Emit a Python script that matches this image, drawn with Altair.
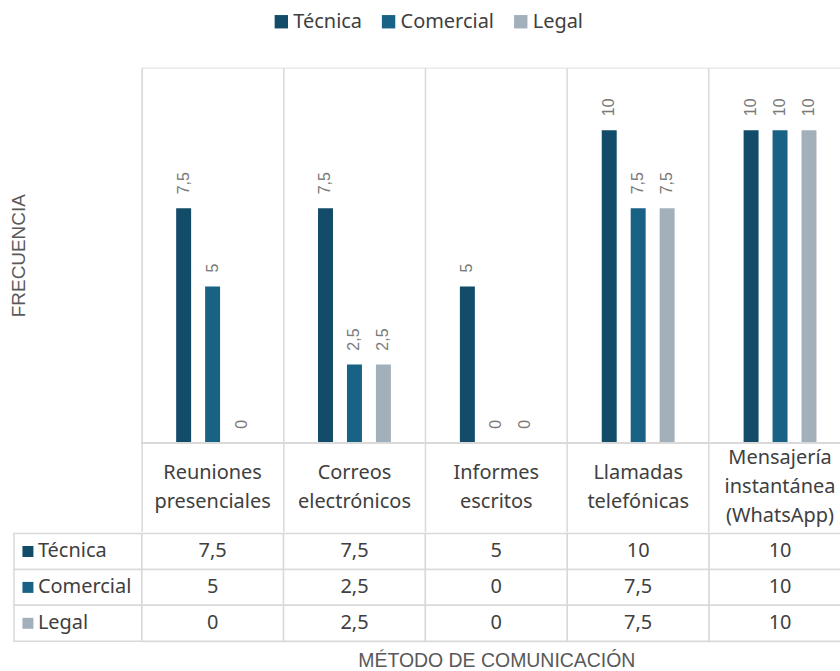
import altair as alt
import pandas as pd

# Communication methods (header labels break on "\n")
categorias = [
    "Reuniones\npresenciales",
    "Correos\nelectrónicos",
    "Informes\nescritos",
    "Llamadas\ntelefónicas",
    "Mensajería\ninstantánea\n(WhatsApp)",
]
series = ["Técnica", "Comercial", "Legal"]
colores = ["#124c69", "#186285", "#a2b0bc"]

# Frequency per area, one list per series (same order as categorias)
tecnica = [7.5, 7.5, 5, 10, 10]
comercial = [5, 2.5, 0, 7.5, 10]
legal = [0, 2.5, 0, 7.5, 10]

filas = []
for serie, valores in zip(series, [tecnica, comercial, legal]):
    for cat, v in zip(categorias, valores):
        filas.append({"categoria": cat, "serie": serie, "valor": v})
df = pd.DataFrame(filas)

GRIS_LINEA = "#d9d9d9"
FUENTE_TABLA = "Noto Sans"
FUENTE_EJES = "Liberation Sans"
TAM_TABLA = 20
ANCHO = 711  # five category columns; the page crops the last one

x_cat = alt.Scale(paddingInner=0, paddingOuter=0)
color = alt.Color(
    "serie:N",
    sort=series,
    scale=alt.Scale(domain=series, range=colores),
    legend=alt.Legend(
        title=None,
        orient="none",
        direction="horizontal",
        legendX=130,
        legendY=-56,
        symbolType="square",
        symbolSize=180,
        symbolStrokeWidth=0,
        labelFont=FUENTE_TABLA,
        labelFontSize=TAM_TABLA,
        labelColor="#404040",
        columnPadding=16.5,
        labelOffset=2,
    ),
)

base = alt.Chart(df).transform_calculate(
    texto="replace(toString(datum.valor), '.', ',')"
)

eje_x = alt.X(
    "categoria:N",
    sort=categorias,
    scale=x_cat,
    axis=alt.Axis(
        title=None,
        bandPosition=0,
        grid=True,
        gridColor=GRIS_LINEA,
        gridWidth=1.5,
        ticks=True,
        tickSize=89,
        tickColor=GRIS_LINEA,
        tickWidth=1.5,
        domain=False,
        labelExpr="split(datum.label, '\\n')",
        labelPadding={
            "condition": {"test": "indexof(datum.value, '(') >= 0", "value": -74},
            "value": -59,
        },
        labelBaseline="middle",
        labelAlign="center",
        labelAngle=0,
        labelFont=FUENTE_TABLA,
        labelFontSize=TAM_TABLA,
        labelColor="#404040",
        labelLineHeight=29,
        labelOverlap=False,
        labelLimit=0,
    ),
)

eje_y = alt.Y(
    "valor:Q",
    scale=alt.Scale(domain=[0, 12]),
    axis=alt.Axis(
        title="FRECUENCIA",
        labels=False,
        ticks=False,
        domain=False,
        grid=False,
        titleAngle=270,
        titleX=-123,
        titleBaseline="middle",
        titleFont=FUENTE_EJES,
        titleFontSize=19,
        titleFontWeight="normal",
        titleColor="#595959",
    ),
)

x_off = alt.XOffset(
    "serie:N", sort=series, scale=alt.Scale(paddingInner=0, paddingOuter=0.95)
)

barras = base.mark_bar(width=15).encode(x=eje_x, xOffset=x_off, y=eje_y, color=color)

etiquetas = base.mark_text(
    angle=270,
    align="left",
    baseline="middle",
    dx=14,
    font=FUENTE_EJES,
    fontSize=16,
    color="#7a7a7a",
).encode(x=eje_x, xOffset=x_off, y=eje_y, text="texto:N")

# baseline of the category axis
linea_base = base.mark_rule(color=GRIS_LINEA, strokeWidth=1.5).encode(y=alt.datum(0))

grafico = alt.layer(barras, etiquetas, linea_base).properties(width=ANCHO, height=376)

# Data table under the chart
x_tabla = alt.X(
    "categoria:N",
    sort=categorias,
    scale=x_cat,
    axis=alt.Axis(
        title="MÉTODO DE COMUNICACIÓN",
        labels=False,
        ticks=False,
        domain=False,
        grid=False,
        titlePadding=10,
        titleFont=FUENTE_EJES,
        titleFontSize=19.5,
        titleFontWeight="normal",
        titleColor="#595959",
    ),
)
y_tabla = alt.Y(
    "serie:N",
    sort=series,
    scale=alt.Scale(paddingInner=0, paddingOuter=0),
    axis=None,
)

celdas = base.mark_rect(fill="white", stroke=GRIS_LINEA, strokeWidth=1.5).encode(
    x=x_tabla, y=y_tabla
)
valores_tabla = base.mark_text(
    font=FUENTE_TABLA, fontSize=TAM_TABLA, color="#404040"
).encode(x=x_tabla, y=y_tabla, text="texto:N")

nombres = alt.Chart(pd.DataFrame({"serie": series}))
celdas_nombre = nombres.mark_rect(
    fill="white", stroke=GRIS_LINEA, strokeWidth=1.5
).encode(x=alt.value(-128), x2=alt.value(0), y=y_tabla)
claves = nombres.mark_square(size=121, opacity=1).encode(
    x=alt.value(-114),
    y=y_tabla,
    color=alt.Color("serie:N", sort=series, legend=None),
)
textos_nombre = nombres.mark_text(
    align="left", font=FUENTE_TABLA, fontSize=TAM_TABLA, color="#404040"
).encode(x=alt.value(-104), y=y_tabla, text="serie:N")

tabla = alt.layer(
    celdas, valores_tabla, celdas_nombre, claves, textos_nombre
).properties(width=ANCHO, height=108)

chart = (
    alt.vconcat(grafico, tabla, spacing=-5)
    .configure_view(stroke=None)
    .configure(padding={"left": 9, "top": 11, "right": -13, "bottom": 0})
)

chart.save("out.html", embed_options={"renderer": "svg", "actions": False})
